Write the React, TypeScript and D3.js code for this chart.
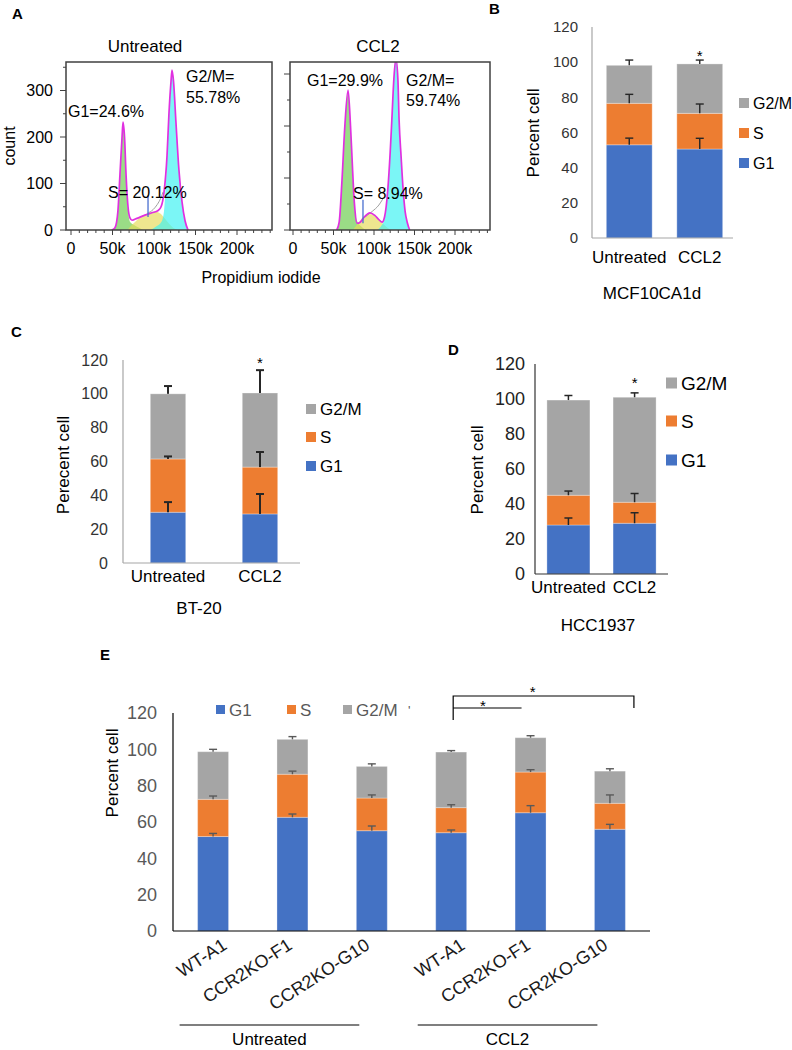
import React from "react";
import * as d3 from "d3";

const FONT = "'Liberation Sans', Arial, Helvetica, sans-serif";

// ---------------- Panel A data (flow cytometry histograms, x in thousands) ----------------
const histTitles = ["Untreated", "CCL2"];
const histTickValues = [0, 50, 100, 150, 200];
const histTickLabels = ["0", "50k", "100k", "150k", "200k"];
const histYTickValues = [0, 100, 200, 300];
const histXTitle = "Propidium iodide";
const histYTitle = "count";

const untreatedTotal: [number, number][] = [
  [49, 0], [53, 5], [56.5, 40], [59, 120], [61.5, 200], [62.7, 232], [64.5, 200], [66.3, 120],
  [68.7, 50], [71, 26], [73.5, 21], [79.5, 25], [89, 32], [97.5, 37], [105, 42], [108.5, 50],
  [112, 80], [115.7, 160], [118, 250], [120.5, 320], [121.7, 344], [123.5, 320], [126.5, 230],
  [130, 130], [133.8, 60], [137.4, 20], [141, 0],
];
const untreatedG1Fit: [number, number][] = [
  [49, 0], [53, 5], [56.5, 38], [59, 116], [61.5, 196], [62.7, 226], [64.5, 195], [66.3, 114],
  [68.7, 44], [71, 18], [76, 11], [82, 5], [87, 0],
];
const untreatedSFit: [number, number][] = [
  [68, 0], [73, 10], [80, 22], [88, 32], [96, 38], [102, 40], [108, 35], [113, 25], [118, 14],
  [123, 5], [128, 0],
];
const untreatedG2Fit: [number, number][] = [
  [96, 0], [103, 8], [109, 18], [112, 40], [115.7, 150], [118, 245], [120.5, 315], [121.7, 340],
  [123.5, 315], [126.5, 225], [130, 125], [133.8, 55], [137.4, 18], [141, 0],
];
const untreatedModel: [number, number][] = [[92, 36], [99, 44], [104, 55], [108, 68], [111, 82]];
const untreatedMarker = [92.8, 28, 75];
const untreatedLabels = ["G1=24.6%", "G2/M=", "55.78%", "S= 20.12%"];

const ccl2Total: [number, number][] = [
  [54, 0], [57, 15], [60.5, 96], [64, 200], [68, 269], [71, 200], [73, 135], [75, 70], [76.5, 38],
  [79, 13], [83, 15], [88, 25], [95, 33], [101, 28], [106, 20], [110, 15], [113, 25], [117, 77],
  [120, 150], [122, 211], [124.5, 290], [127, 330], [129.5, 290], [131, 211], [133.5, 140],
  [136, 77], [138.5, 35], [141, 15], [144, 0],
];
const ccl2G1Fit: [number, number][] = [
  [54, 0], [57, 15], [60.5, 95], [64, 198], [68, 265], [71, 198], [73, 130], [75, 65], [77, 30],
  [80, 15], [85, 6], [90, 0],
];
const ccl2SFit: [number, number][] = [
  [74, 0], [80, 12], [86, 24], [93, 31], [99, 30], [105, 22], [111, 12], [117, 4], [122, 0],
];
const ccl2G2Fit: [number, number][] = [
  [104, 0], [109, 8], [113, 22], [117, 75], [120, 148], [122, 210], [124.5, 288], [127, 328],
  [129.5, 288], [131, 210], [133.5, 138], [136, 75], [138.5, 33], [141, 13], [144, 0],
];
const ccl2Model: [number, number][] = [[86, 22], [98, 36], [106, 48], [111, 60]];
const ccl2Marker = [86.4, 13, 58];
const ccl2Labels = ["G1=29.9%", "G2/M=", "59.74%", "S= 8.94%"];

// ---------------- Bar panels data ----------------
const phaseKeys = ["G1", "S", "G2/M"];
const phaseColors = ["#4472C4", "#ED7D31", "#A5A5A5"];
const barYTicks = [0, 20, 40, 60, 80, 100, 120];
const conditions = ["Untreated", "CCL2"];

// B: MCF10CA1d
const bG1 = [53, 50.6];
const bS = [23.6, 20.3];
const bG2 = [21.6, 28.1];
const bErrG1 = [3.8, 6.1];
const bErrS = [5.1, 5.3];
const bErrG2 = [3, 2.2];

// C: BT-20
const cG1 = [30, 29];
const cS = [31.5, 27.7];
const cG2 = [38.5, 43.8];
const cErrG1 = [6, 11.8];
const cErrS = [1.5, 8.9];
const cErrG2 = [4.6, 13.5];

// D: HCC1937
const dG1 = [28, 29];
const dS = [17, 12];
const dG2 = [54.4, 60];
const dErrG1 = [4, 6];
const dErrS = [2.4, 5];
const dErrG2 = [2.6, 2.5];

// E: clones
const eGroups = ["Untreated", "CCL2"];
const eClones = ["WT-A1", "CCR2KO-F1", "CCR2KO-G10"];
const eG1 = [52, 62.6, 55.2, 54.1, 65.1, 56];
const eS = [20.5, 23.7, 18, 13.8, 22.4, 14.3];
const eG2 = [26.2, 19.2, 17.4, 30.6, 18.9, 17.7];
const eErrG1 = [1.7, 1.8, 2.6, 1.5, 3.9, 2.7];
const eErrS = [1.8, 1.7, 1.7, 1.6, 1.3, 4.6];
const eErrG2 = [1.3, 1.5, 1.4, 0.8, 1.1, 1.3];

type Pt = [number, number];

function Histogram(props: {
  boxL: number; boxR: number; boxT: number; boxB: number;
  xr: [number, number]; px100: number; showYLabels: boolean;
  total: Pt[]; g1: Pt[]; s: Pt[]; g2: Pt[]; model: Pt[]; marker: number[];
  labels: string[]; labelPos: number[][]; title: string; titleX: number; id: string;
}) {
  const { boxL, boxR, boxT, boxB } = props;
  const x = d3.scaleLinear().domain([0, 200]).range(props.xr);
  const y = d3.scaleLinear().domain([0, 100]).range([boxB, boxB - props.px100]);
  const area = d3.area<Pt>().x((d) => x(d[0])).y0(y(0)).y1((d) => y(d[1])).curve(d3.curveMonotoneX);
  const line = d3.line<Pt>().x((d) => x(d[0])).y((d) => y(d[1])).curve(d3.curveMonotoneX);
  const xMax = x.invert(boxR);
  const minorX = d3.range(0, xMax, 10);
  const yMax = y.invert(boxT);
  const minorY = d3.range(0, yMax, 50);
  return (
    <g>
      <defs>
        <clipPath id={props.id}>
          <rect x={boxL} y={boxT} width={boxR - boxL} height={boxB - boxT} />
        </clipPath>
      </defs>
      <text x={props.titleX} y={52} textAnchor="middle" fontSize={17}>{props.title}</text>
      <g clipPath={`url(#${props.id})`}>
        <path d={area(props.g1) || ""} fill="#5cc83c" fillOpacity={0.62} />
        <path d={area(props.s) || ""} fill="#e6dc5a" fillOpacity={0.68} />
        <path d={area(props.g2) || ""} fill="#3cf2f2" fillOpacity={0.68} />
        <path d={line(props.model) || ""} fill="none" stroke="#a0a0a0" strokeWidth={1} />
        <path d={line(props.total) || ""} fill="none" stroke="#e030e0" strokeWidth={1.7} />
        <line x1={x(props.marker[0])} x2={x(props.marker[0])} y1={y(props.marker[1])} y2={y(props.marker[2])}
          stroke="#4a6fd0" strokeWidth={1.3} />
      </g>
      <rect x={boxL} y={boxT} width={boxR - boxL} height={boxB - boxT} fill="none" stroke="#404040" strokeWidth={1.5} />
      {minorX.map((v) => (
        <line key={"mx" + v} x1={x(v)} x2={x(v)} y1={boxB} y2={boxB + (v % 50 === 0 ? 5 : 3)} stroke="#404040" strokeWidth={1} />
      ))}
      {minorY.map((v) => (
        <line key={"my" + v} x1={boxL} x2={boxL - (v % 100 === 0 ? 6 : 3)} y1={y(v)} y2={y(v)} stroke="#404040" strokeWidth={1} />
      ))}
      {props.showYLabels && histYTickValues.map((v) => (
        <text key={"yl" + v} x={boxL - 13} y={y(v)} dy="0.35em" textAnchor="end" fontSize={16}>{v}</text>
      ))}
      {histTickValues.map((v, i) => (
        <text key={"xl" + v} x={x(v)} y={248} dy="0.35em" textAnchor="middle" fontSize={16}>{histTickLabels[i]}</text>
      ))}
      {props.labels.map((t, i) => (
        <text key={"lab" + i} x={props.labelPos[i][0]} y={props.labelPos[i][1]} fontSize={16}>{t}</text>
      ))}
    </g>
  );
}

function StackedBars(props: {
  keys: string[]; g1: number[]; s: number[]; g2: number[];
  errs: number[][]; x: d3.ScaleBand<string>; y: d3.ScaleLinear<number, number>;
  errColor: string; errWidth: number; capW: number;
}) {
  const { keys, x, y } = props;
  const rows = keys.map((k, i) => ({ key: k, G1: props.g1[i], S: props.s[i], "G2/M": props.g2[i] }));
  const series = d3.stack<any>().keys(phaseKeys)(rows);
  const bw = x.bandwidth();
  return (
    <g>
      {series.map((layer, li) =>
        layer.map((d, i) => (
          <rect key={li + "-" + i} x={x(keys[i])} y={y(d[1])} width={bw} height={y(d[0]) - y(d[1])}
            fill={phaseColors[li]} stroke="#ffffff" strokeOpacity={0.3} strokeWidth={1} />
        ))
      )}
      {series.map((layer, li) =>
        layer.map((d, i) => {
          const cx = (x(keys[i]) as number) + bw / 2;
          const top = y(d[1] + props.errs[li][i]);
          return (
            <g key={"e" + li + "-" + i} stroke={props.errColor} strokeWidth={props.errWidth}>
              <line x1={cx} x2={cx} y1={y(d[1])} y2={top} />
              <line x1={cx - props.capW / 2} x2={cx + props.capW / 2} y1={top} y2={top} />
            </g>
          );
        })
      )}
    </g>
  );
}

function YAxisLabels(props: { y: d3.ScaleLinear<number, number>; x: number; fontSize: number; color: string }) {
  return (
    <g>
      {barYTicks.map((v) => (
        <text key={v} x={props.x} y={props.y(v)} dy="0.35em" textAnchor="end" fontSize={props.fontSize} fill={props.color}>{v}</text>
      ))}
    </g>
  );
}

function Legend(props: { x: number; ys: number[]; size: number; fontSize: number; color: string; order: number[] }) {
  return (
    <g>
      {props.order.map((li, i) => (
        <g key={li}>
          <rect x={props.x} y={props.ys[i] - props.size / 2} width={props.size} height={props.size} fill={phaseColors[li]} />
          <text x={props.x + props.size + 4} y={props.ys[i]} dy="0.35em" fontSize={props.fontSize} fill={props.color}>{phaseKeys[li]}</text>
        </g>
      ))}
    </g>
  );
}

export default function App() {
  // Panel B scales
  const yB = d3.scaleLinear().domain([0, 120]).range([238, 27]);
  const xB = d3.scaleBand<string>().domain(conditions).range([594, 735]).paddingInner(0.35).paddingOuter(0.175);
  // Panel C
  const yC = d3.scaleLinear().domain([0, 120]).range([563, 360]);
  const xC = d3.scaleBand<string>().domain(conditions).range([123, 305]).paddingInner(0.615).paddingOuter(0.297);
  // Panel D
  const yD = d3.scaleLinear().domain([0, 120]).range([574, 364]);
  const xD = d3.scaleBand<string>().domain(conditions).range([535, 668]).paddingInner(0.35).paddingOuter(0.18);
  // Panel E
  const yE = d3.scaleLinear().domain([0, 120]).range([931, 713]);
  const eKeys = eGroups.flatMap((g) => eClones.map((c) => g + "|" + c));
  const xE = d3.scaleBand<string>().domain(eKeys).range([173, 650]).paddingInner(0.61).paddingOuter(0.31);
  const bwE = xE.bandwidth();
  const cE = (k: string) => (xE(k) as number) + bwE / 2;
  const cloneLabelDx = [15, 1, -1];

  const wt = "CCL2|WT-A1";
  const f1 = "CCL2|CCR2KO-F1";
  const g10 = "CCL2|CCR2KO-G10";

  return (
    <svg width={792} height={1050} style={{ position: "absolute", left: 0, top: 0, background: "#fff" }}
      fontFamily={FONT} fill="#000">
      {/* Panel letters */}
      <text x={12} y={19} fontSize={15} fontWeight="bold">A</text>
      <text x={489} y={14} fontSize={15} fontWeight="bold">B</text>
      <text x={11} y={337} fontSize={15} fontWeight="bold">C</text>
      <text x={448} y={355} fontSize={15} fontWeight="bold">D</text>
      <text x={100} y={660} fontSize={15} fontWeight="bold">E</text>

      {/* ---------- Panel A ---------- */}
      <Histogram id="clipA1" boxL={66} boxR={272} boxT={62} boxB={230} xr={[71, 237]} px100={46.5}
        showYLabels={true} total={untreatedTotal} g1={untreatedG1Fit} s={untreatedSFit} g2={untreatedG2Fit}
        model={untreatedModel} marker={untreatedMarker} labels={untreatedLabels}
        labelPos={[[68, 117], [186, 82], [186, 103], [108, 198]]} title={histTitles[0]} titleX={145} />
      <Histogram id="clipA2" boxL={290} boxR={490} boxT={62} boxB={230} xr={[293, 455]} px100={52}
        showYLabels={false} total={ccl2Total} g1={ccl2G1Fit} s={ccl2SFit} g2={ccl2G2Fit}
        model={ccl2Model} marker={ccl2Marker} labels={ccl2Labels}
        labelPos={[[307, 86], [406, 86], [406, 106], [353, 199]]} title={histTitles[1]} titleX={378} />
      <text x={261} y={277} dy="0.35em" textAnchor="middle" fontSize={16}>{histXTitle}</text>
      <text transform="translate(9,146) rotate(-90)" dy="0.35em" textAnchor="middle" fontSize={16}>{histYTitle}</text>

      {/* ---------- Panel B ---------- */}
      <line x1={592} x2={592} y1={yB(0)} y2={yB(120)} stroke="#a6a6a6" strokeWidth={1.2} />
      <StackedBars keys={conditions} g1={bG1} s={bS} g2={bG2} errs={[bErrG1, bErrS, bErrG2]} x={xB} y={yB}
        errColor="#262626" errWidth={1.4} capW={8} />
      <line x1={592} x2={733} y1={yB(0)} y2={yB(0)} stroke="#a6a6a6" strokeWidth={1.2} />
      <YAxisLabels y={yB} x={578} fontSize={15} color="#333" />
      {conditions.map((c) => (
        <text key={c} x={(xB(c) as number) + xB.bandwidth() / 2} y={257} dy="0.35em" textAnchor="middle" fontSize={17}>{c}</text>
      ))}
      <text x={652} y={293} dy="0.35em" textAnchor="middle" fontSize={17}>MCF10CA1d</text>
      <text transform="translate(533,133) rotate(-90)" dy="0.35em" textAnchor="middle" fontSize={17}>Percent cell</text>
      <text x={(xB("CCL2") as number) + xB.bandwidth() / 2} y={61} textAnchor="middle" fontSize={15}>*</text>
      <Legend x={739} ys={[103, 133, 163]} size={10} fontSize={16} color="#000" order={[2, 1, 0]} />

      {/* ---------- Panel C ---------- */}
      <line x1={123} x2={123} y1={yC(0)} y2={yC(120)} stroke="#a6a6a6" strokeWidth={1.2} />
      <StackedBars keys={conditions} g1={cG1} s={cS} g2={cG2} errs={[cErrG1, cErrS, cErrG2]} x={xC} y={yC}
        errColor="#262626" errWidth={2} capW={8} />
      <line x1={123} x2={300} y1={yC(0)} y2={yC(0)} stroke="#a6a6a6" strokeWidth={1.2} />
      <YAxisLabels y={yC} x={108} fontSize={16} color="#333" />
      {conditions.map((c) => (
        <text key={c} x={(xC(c) as number) + xC.bandwidth() / 2} y={576} dy="0.35em" textAnchor="middle" fontSize={17}>{c}</text>
      ))}
      <text x={199} y={608} dy="0.35em" textAnchor="middle" fontSize={17}>BT-20</text>
      <text transform="translate(63,465) rotate(-90)" dy="0.35em" textAnchor="middle" fontSize={17}>Perecent cell</text>
      <text x={(xC("CCL2") as number) + xC.bandwidth() / 2} y={368} textAnchor="middle" fontSize={15}>*</text>
      <Legend x={306} ys={[409, 437, 466]} size={10} fontSize={17} color="#000" order={[2, 1, 0]} />

      {/* ---------- Panel D ---------- */}
      <line x1={535} x2={535} y1={yD(0)} y2={yD(120)} stroke="#333" strokeWidth={1.2} />
      <StackedBars keys={conditions} g1={dG1} s={dS} g2={dG2} errs={[dErrG1, dErrS, dErrG2]} x={xD} y={yD}
        errColor="#262626" errWidth={1.5} capW={8} />
      <line x1={535} x2={668} y1={yD(0)} y2={yD(0)} stroke="#333" strokeWidth={1.2} />
      <YAxisLabels y={yD} x={525} fontSize={18} color="#222" />
      {conditions.map((c) => (
        <text key={c} x={(xD(c) as number) + xD.bandwidth() / 2} y={587} dy="0.35em" textAnchor="middle" fontSize={17}>{c}</text>
      ))}
      <text x={598} y={625} dy="0.35em" textAnchor="middle" fontSize={17}>HCC1937</text>
      <text transform="translate(477,470) rotate(-90)" dy="0.35em" textAnchor="middle" fontSize={17}>Percent cell</text>
      <text x={(xD("CCL2") as number) + xD.bandwidth() / 2} y={388} textAnchor="middle" fontSize={15}>*</text>
      <Legend x={666} ys={[383, 421, 460]} size={11} fontSize={19} color="#000" order={[2, 1, 0]} />

      {/* ---------- Panel E ---------- */}
      <line x1={173} x2={173} y1={yE(0)} y2={yE(120)} stroke="#000" strokeWidth={1.2} />
      <StackedBars keys={eKeys} g1={eG1} s={eS} g2={eG2} errs={[eErrG1, eErrS, eErrG2]} x={xE} y={yE}
        errColor="#595959" errWidth={1.4} capW={8} />
      <line x1={173} x2={650} y1={yE(0)} y2={yE(0)} stroke="#000" strokeWidth={1.2} />
      <YAxisLabels y={yE} x={157} fontSize={18} color="#595959" />
      <text transform="translate(112,773) rotate(-90)" dy="0.35em" textAnchor="middle" fontSize={17}>Percent cell</text>
      {eKeys.map((k, i) => (
        <text key={k} transform={`translate(${cE(k) + cloneLabelDx[i % 3]},948) rotate(-33)`} textAnchor="end" fontSize={18} fill="#1a1a1a">
          {k.split("|")[1]}
        </text>
      ))}
      {eGroups.map((g) => {
        const x1 = (xE(g + "|" + eClones[0]) as number) - 18;
        const x2 = (xE(g + "|" + eClones[eClones.length - 1]) as number) + bwE - 28;
        return (
          <g key={g}>
            <line x1={x1} x2={x2} y1={1025} y2={1025} stroke="#000" strokeWidth={1.2} />
            <text x={(x1 + x2) / 2} y={1039} dy="0.35em" textAnchor="middle" fontSize={17}>{g}</text>
          </g>
        );
      })}
      {/* legend E */}
      <g>
        {[0, 1, 2].map((li, i) => {
          const lx = [216, 287, 343][i];
          return (
            <g key={li}>
              <rect x={lx} y={705} width={9} height={9} fill={phaseColors[li]} />
              <text x={lx + 13} y={710} dy="0.35em" fontSize={17} fill="#595959">{phaseKeys[li]}</text>
            </g>
          );
        })}
        <text x={408} y={710} dy="0.35em" fontSize={13} fill="#595959">'</text>
      </g>
      {/* significance brackets */}
      <g stroke="#000" strokeWidth={1.2} fill="none">
        <path d={`M${cE(wt) + 2},720 V696 H${cE(g10) + 24} V708`} />
        <path d={`M${cE(wt) + 2},708 H${cE(f1) - 9}`} />
      </g>
      <text x={(cE(wt) + cE(g10)) / 2 + 2} y={697} textAnchor="middle" fontSize={15}>*</text>
      <text x={(cE(wt) + cE(f1)) / 2 - 8} y={711} textAnchor="middle" fontSize={15}>*</text>
    </svg>
  );
}
